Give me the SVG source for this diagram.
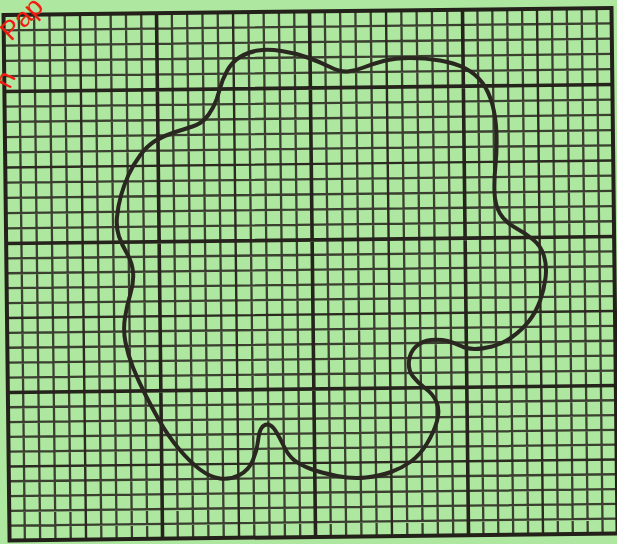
<svg xmlns="http://www.w3.org/2000/svg" width="617" height="544" viewBox="0 0 617 544">
<style>
.minor{fill:none;stroke:#2f2c24;stroke-width:2.3;stroke-opacity:0.9}
.med{fill:none;stroke:#2c2921;stroke-width:2.4}
.major{fill:none;stroke:#26231c;stroke-width:3.6}
.border{fill:none;stroke:#24211a;stroke-width:4}
.blob{fill:none;stroke:#2a2721;stroke-width:4;stroke-linejoin:round;stroke-linecap:round}
.wm{font-family:"Liberation Sans",Arial,sans-serif;font-size:27px;fill:#f01c14}
</style>
<rect x="0" y="0" width="617" height="544" fill="#aee8a0"/>
<g id="grid" transform="rotate(-0.66 308 272)">
<path class="minor" d="M21.8 11.5V537M37.1 11.5V537M52.4 11.5V537M67.7 11.5V537M98.3 11.5V537M113.6 11.5V537M128.9 11.5V537M144.2 11.5V537M174.8 11.5V537M190.1 11.5V537M205.4 11.5V537M220.7 11.5V537M251.3 11.5V537M266.6 11.5V537M281.9 11.5V537M297.2 11.5V537M327.8 11.5V537M343.1 11.5V537M358.4 11.5V537M373.7 11.5V537M404.3 11.5V537M419.6 11.5V537M434.9 11.5V537M450.2 11.5V537M480.4 11.5V537M495.3 11.5V537M510.2 11.5V537M525.1 11.5V537M554.9 11.5V537M569.8 11.5V537M584.7 11.5V537M599.6 11.5V537
M6.5 26.8H614.5M6.5 42.1H614.5M6.5 57.4H614.5M6.5 72.7H614.5M6.5 103.2H614.5M6.5 118.4H614.5M6.5 133.6H614.5M6.5 148.8H614.5M6.5 179.2H614.5M6.5 194.4H614.5M6.5 209.6H614.5M6.5 224.8H614.5M6.5 254.9H614.5M6.5 269.8H614.5M6.5 284.7H614.5M6.5 299.6H614.5M6.5 329.4H614.5M6.5 344.3H614.5M6.5 359.2H614.5M6.5 374.1H614.5M6.5 403.8H614.5M6.5 418.6H614.5M6.5 433.4H614.5M6.5 448.2H614.5M6.5 477.8H614.5M6.5 492.6H614.5M6.5 507.4H614.5M6.5 522.2H614.5"/>
<path class="med" d="M83 11.5V537M236 11.5V537M389 11.5V537M540 11.5V537M6.5 164H614.5M6.5 314.5H614.5M6.5 463H614.5"/>
<path class="major" d="M159.5 11.5V537M312.5 11.5V537M465.5 11.5V537M6.5 88H614.5M6.5 240H614.5M6.5 389H614.5"/>
<rect class="border" x="6.5" y="11.5" width="608" height="525.5"/>
</g>
<g id="outline">
<path class="blob" d="M213 107.5Q217 100 219.5 90Q222 80 227 71Q232 62 240 57Q248 52 258 50.5Q268 49 281.5 51Q295 53 307.5 57.5Q320 62 330 67Q340 72 347.5 71.5Q355 71 363.5 67.5Q372 64 383.5 61Q395 58 410 58Q425 58 440 60.5Q455 63 465.5 68.5Q476 74 482.5 83Q489 92 492.5 105Q496 118 496.5 134Q497 150 495.5 165Q494 180 494.5 192.5Q495 205 500 213.5Q505 222 515 227.5Q525 233 533 239.5Q541 246 544 256Q547 266 545.5 278Q544 290 540 301Q536 312 529 321Q522 330 512 337Q502 344 492 346.5Q482 349 474.5 349Q467 349 461 346Q455 343 447.5 341Q440 339 431 340Q422 341 416 346.5Q410 352 409 361Q408 370 413 376.5Q418 383 425.5 388.5Q433 394 436.5 402Q440 410 437 421Q434 432 427 443.5Q420 455 411 461.5Q402 468 391 472Q380 476 366 477.5Q352 479 337 476Q322 473 311 469Q300 465 294 460Q288 455 284 446.5Q280 438 276 431.5Q272 425 268 424.5Q264 424 261.5 428Q259 432 258 441Q257 450 253 460Q249 470 239.5 475Q230 480 220 478.5Q210 477 200 469.5Q190 462 179 449Q168 436 159 420Q150 404 144 392Q138 380 133 367.5Q128 355 125.5 342.5Q123 330 125 317.5Q127 305 130.5 293.5Q134 282 133 272Q132 262 127 253.5Q122 245 119 236.5Q116 228 117 217Q118 206 121 195.5Q124 185 128.5 175Q133 165 140 155.5Q147 146 155 141Q163 136 174 132.5Q185 129 192.5 126.5Q200 124 204.5 119.5Q209 115 213 107.5Z"/>
</g>
<g id="watermark">
<text class="wm" x="11" y="42" transform="rotate(-45 11 42)">Pap</text>
<text class="wm" x="10" y="90" transform="rotate(-65 10 90)">n</text>
</g>
</svg>
